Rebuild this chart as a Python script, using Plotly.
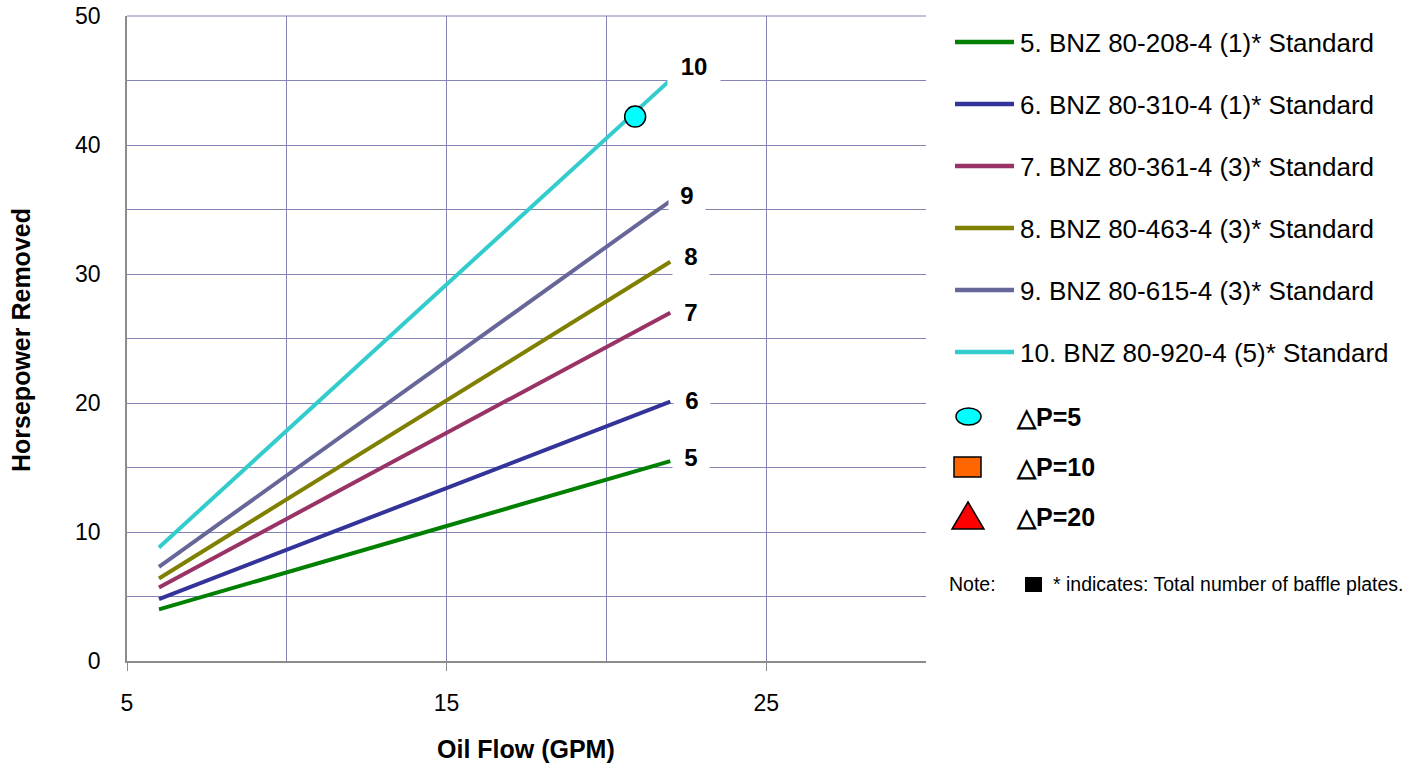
import plotly.graph_objects as go

# ---------------- data ----------------
flow = [6, 22]  # Oil Flow (GPM)
hp_5 = [4.0, 15.5]
hp_6 = [4.8, 20.1]
hp_7 = [5.7, 27.0]
hp_8 = [6.4, 30.95]
hp_9 = [7.3, 35.65]
hp_10 = [8.8, 45.05]

series_names = [
    "5. BNZ 80-208-4 (1)* Standard",
    "6. BNZ 80-310-4 (1)* Standard",
    "7. BNZ 80-361-4 (3)* Standard",
    "8. BNZ 80-463-4 (3)* Standard",
    "9. BNZ 80-615-4 (3)* Standard",
    "10. BNZ 80-920-4 (5)* Standard",
]
series_labels = ["5", "6", "7", "8", "9", "10"]
series_values = [hp_5, hp_6, hp_7, hp_8, hp_9, hp_10]

dp5_flow = [20.9]
dp5_hp = [42.2]

dp_names = ["△P=5", "△P=10", "△P=20"]
note_text = "* indicates: Total number of baffle plates."

x_ticks = [5, 15, 25]
y_ticks = [0, 10, 20, 30, 40, 50]

# ---------------- style ----------------
colors = ["#008000", "#333399", "#993366", "#808000", "#666699", "#33CCCC"]
label_yshift = [4, 2, 1, 6, 6, 14]
label_xshift = [21, 22, 21, 21, 17, 24]
label_width = [34, 34, 34, 34, 34, 50]
GRID = "#8383B5"
AXIS = "#8C8C8C"
FONT = "Liberation Sans, Arial, sans-serif"

W, H = 1419, 765
L, R, T, B = 127, 926, 16, 661  # plot area in page pixels


def px(x):
    return (x - L) / (R - L)


def py(y):
    return (B - y) / (B - T)


fig = go.Figure()

for name, vals, col in zip(series_names, series_values, colors):
    fig.add_trace(go.Scatter(
        x=flow, y=vals, mode="lines", name=name,
        line=dict(color=col, width=4), showlegend=False,
    ))

fig.add_trace(go.Scatter(
    x=dp5_flow, y=dp5_hp, mode="markers", name=dp_names[0],
    marker=dict(symbol="circle", size=21, color="#00FFFF",
                line=dict(color="black", width=1.5)),
    showlegend=False,
))

annotations = []
shapes = []

# top border of plot area (gridline at the top of the range)
shapes.append(dict(type="line", xref="paper", yref="paper", x0=0, x1=1, y0=1, y1=1,
                   line=dict(color=GRID, width=1), layer="below"))

# end-of-line labels
for i, (lab, vals) in enumerate(zip(series_labels, series_values)):
    annotations.append(dict(
        x=flow[-1], y=vals[-1], xref="x", yref="y", text=f"<b>{lab}</b>",
        showarrow=False, xanchor="center", yanchor="middle",
        xshift=label_xshift[i], yshift=label_yshift[i],
        font=dict(family=FONT, size=24, color="black"),
        bgcolor="white", width=label_width[i], height=38, borderpad=1,
    ))

# custom legend: lines
for i, (name, col) in enumerate(zip(series_names, colors)):
    yy = 42 + 62 * i
    shapes.append(dict(type="line", xref="paper", yref="paper",
                       x0=px(955), x1=px(1014), y0=py(yy), y1=py(yy),
                       line=dict(color=col, width=4.5)))
    annotations.append(dict(x=px(1018), y=py(yy + 1), xref="paper", yref="paper",
                            text=name, showarrow=False, xanchor="left",
                            yanchor="middle",
                            font=dict(family=FONT, size=26, color="black")))

# custom legend: markers
shapes.append(dict(type="circle", xref="paper", yref="paper",
                   x0=px(956), x1=px(981), y0=py(425), y1=py(408),
                   fillcolor="#00FFFF", line=dict(color="black", width=1.5)))
shapes.append(dict(type="rect", xref="paper", yref="paper",
                   x0=px(954), x1=px(981), y0=py(477), y1=py(457),
                   fillcolor="#FF6600", line=dict(color="black", width=1.5)))
shapes.append(dict(type="path", xref="paper", yref="paper",
                   path=f"M {px(968)} {py(502)} L {px(984)} {py(529)} L {px(952)} {py(529)} Z",
                   fillcolor="#FF0000", line=dict(color="black", width=1.5)))
for name, yy in zip(dp_names, [417, 467, 517]):
    annotations.append(dict(x=px(1014), y=py(yy), xref="paper", yref="paper",
                            text=f"<b>{name}</b>", showarrow=False,
                            xanchor="left", yanchor="middle",
                            font=dict(family=FONT, size=25, color="black")))

# note
annotations.append(dict(x=px(947), y=py(584), xref="paper", yref="paper",
                        text="Note:", showarrow=False, xanchor="left",
                        yanchor="middle",
                        font=dict(family=FONT, size=19.5, color="black")))
shapes.append(dict(type="rect", xref="paper", yref="paper",
                   x0=px(1025), x1=px(1042), y0=py(592), y1=py(577),
                   fillcolor="black", line=dict(width=0)))
annotations.append(dict(x=px(1051), y=py(584), xref="paper", yref="paper",
                        text=note_text, showarrow=False, xanchor="left",
                        yanchor="middle",
                        font=dict(family=FONT, size=19.5, color="black")))

# axis titles
annotations.append(dict(x=px(526), y=py(749), xref="paper", yref="paper",
                        text="<b>Oil Flow (GPM)</b>", showarrow=False,
                        xanchor="center", yanchor="middle",
                        font=dict(family=FONT, size=25, color="black")))
annotations.append(dict(x=px(21), y=py(340), xref="paper", yref="paper",
                        text="<b>Horsepower Removed</b>", showarrow=False,
                        textangle=-90, xanchor="center", yanchor="middle",
                        font=dict(family=FONT, size=25, color="black")))

fig.update_layout(
    width=W, height=H,
    margin=dict(l=L, r=W - R, t=T, b=H - B, pad=0, autoexpand=False),
    paper_bgcolor="white", plot_bgcolor="white",
    showlegend=False,
    annotations=annotations, shapes=shapes,
)

fig.update_xaxes(
    range=[5, 30], tickvals=x_ticks, ticktext=[str(v) for v in x_ticks],
    ticks="outside", ticklen=8, tickcolor=AXIS, tickwidth=1,
    showgrid=True, gridcolor=GRID, gridwidth=1,
    minor=dict(tick0=5, dtick=5, showgrid=True, gridcolor=GRID, gridwidth=1),
    showline=True, linecolor=AXIS, linewidth=1.5, zeroline=False,
    tickfont=dict(family=FONT, size=23, color="black"),
    ticklabelstandoff=13, automargin=False, ticklabeloverflow="allow",
)
fig.update_yaxes(
    range=[0, 50], tickvals=y_ticks, ticktext=[str(v) for v in y_ticks],
    ticks="", showgrid=True, gridcolor=GRID, gridwidth=1,
    minor=dict(tick0=0, dtick=5, showgrid=True, gridcolor=GRID, gridwidth=1),
    showline=True, linecolor=AXIS, linewidth=1.5, zeroline=False,
    tickfont=dict(family=FONT, size=23, color="black"),
    ticklabelstandoff=20, automargin=False, ticklabeloverflow="allow",
)

fig.write_html(
    "out.html",
    config={"displayModeBar": False},
    post_script="document.body.style.margin='0';document.body.style.overflow='hidden';",
)
